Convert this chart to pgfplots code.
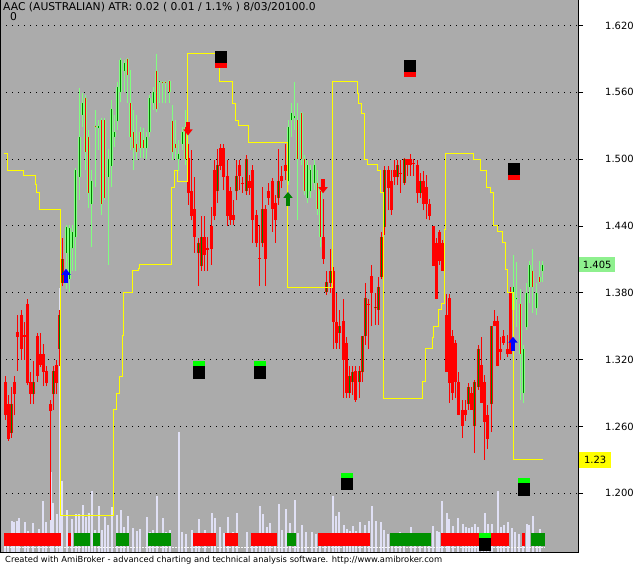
\documentclass[border=0pt]{standalone}
\usepackage{fontspec}
\setmainfont{DejaVu Sans}
\usepackage{pgfplots}
\usepackage{pgfplotstable}
\pgfplotsset{compat=1.18}
\usetikzlibrary{arrows.meta}

\definecolor{bg}{HTML}{ABABAB}
\definecolor{cred}{HTML}{FF0000}
\definecolor{cgreen}{HTML}{008000}
\definecolor{lgreen}{HTML}{80FF80}
\definecolor{brgreen}{HTML}{00FF00}
\definecolor{ribgreen}{HTML}{009000}
\definecolor{vol}{HTML}{E0E0F5}
\definecolor{lbl}{HTML}{8EF08E}
\definecolor{cyel}{HTML}{FFFF00}

% x = bar position (px), s: 0 = red candle, 1 = light green candle
\pgfplotstableread{
x o h l c s
5 1.300 1.305 1.266 1.270 0
8 1.280 1.288 1.247 1.249 0
11 1.254 1.295 1.250 1.280 0
14 1.300 1.305 1.270 1.289 0
17 1.345 1.360 1.310 1.340 0
21 1.360 1.365 1.320 1.330 0
24 1.342 1.354 1.320 1.340 0
27 1.370 1.374 1.297 1.299 0
30 1.300 1.309 1.280 1.289 0
33 1.289 1.319 1.280 1.300 0
37 1.341 1.344 1.300 1.305 0
40 1.325 1.344 1.313 1.315 0
43 1.325 1.334 1.296 1.309 0
46 1.310 1.314 1.296 1.299 0
50 1.280 1.284 1.176 1.274 0
53 1.289 1.314 1.275 1.310 0
56 1.315 1.320 1.289 1.299 0
59 1.330 1.365 1.314 1.360 0
62 1.389 1.429 1.386 1.410 0
66 1.416 1.441 1.383 1.439 1
69 1.392 1.441 1.381 1.438 1
72 1.420 1.441 1.400 1.435 1
75 1.430 1.492 1.400 1.490 1
79 1.484 1.564 1.463 1.520 1
82 1.540 1.559 1.529 1.550 1
85 1.555 1.558 1.490 1.506 1
88 1.520 1.526 1.456 1.470 1
91 1.460 1.490 1.421 1.480 1
95 1.530 1.544 1.475 1.529 1
98 1.528 1.535 1.508 1.530 1
101 1.535 1.537 1.450 1.460 1
104 1.535 1.537 1.463 1.465 1
108 1.484 1.509 1.405 1.500 1
111 1.494 1.553 1.475 1.545 1
114 1.520 1.540 1.511 1.524 1
117 1.534 1.569 1.526 1.565 1
120 1.560 1.591 1.551 1.589 1
124 1.579 1.589 1.560 1.586 1
127 1.590 1.591 1.550 1.576 1
130 1.550 1.580 1.508 1.520 1
133 1.524 1.544 1.490 1.510 1
136 1.514 1.540 1.499 1.506 1
140 1.524 1.529 1.501 1.510 1
143 1.517 1.528 1.501 1.510 1
146 1.510 1.524 1.500 1.520 1
149 1.524 1.558 1.520 1.555 1
153 1.550 1.565 1.544 1.560 1
156 1.579 1.594 1.542 1.545 1
159 1.569 1.570 1.550 1.570 1
162 1.569 1.570 1.550 1.568 1
165 1.569 1.570 1.550 1.568 1
169 1.570 1.571 1.550 1.560 1
172 1.534 1.549 1.499 1.506 1
175 1.514 1.535 1.499 1.510 1
178 1.500 1.517 1.489 1.505 1
182 1.514 1.529 1.508 1.524 1
185 1.529 1.544 1.495 1.500 1
188 1.501 1.514 1.459 1.470 0
191 1.471 1.508 1.445 1.449 0
194 1.455 1.484 1.416 1.430 0
198 1.416 1.429 1.386 1.425 0
201 1.404 1.449 1.400 1.430 0
204 1.430 1.449 1.400 1.414 0
207 1.420 1.430 1.400 1.418 0
211 1.440 1.457 1.405 1.419 0
214 1.490 1.499 1.445 1.449 0
217 1.471 1.509 1.461 1.495 0
220 1.510 1.514 1.490 1.494 0
223 1.510 1.514 1.472 1.484 0
227 1.485 1.499 1.440 1.449 0
230 1.471 1.475 1.441 1.445 0
233 1.450 1.463 1.441 1.445 0
236 1.471 1.499 1.463 1.485 0
239 1.495 1.499 1.472 1.485 0
242 1.479 1.484 1.470 1.478 0
246 1.471 1.504 1.468 1.500 0
249 1.480 1.486 1.468 1.474 0
252 1.490 1.495 1.425 1.445 0
256 1.450 1.454 1.421 1.425 0
259 1.411 1.441 1.386 1.410 0
262 1.425 1.475 1.421 1.455 0
265 1.455 1.459 1.386 1.410 0
268 1.471 1.479 1.459 1.465 0
272 1.480 1.483 1.435 1.455 0
275 1.461 1.468 1.425 1.445 0
278 1.465 1.509 1.459 1.480 0
281 1.485 1.494 1.474 1.480 0
285 1.495 1.514 1.481 1.489 0
288 1.480 1.535 1.477 1.529 1
291 1.535 1.550 1.520 1.541 1
294 1.537 1.569 1.526 1.539 1
297 1.535 1.550 1.445 1.500 1
301 1.541 1.542 1.495 1.500 1
304 1.500 1.504 1.468 1.471 1
307 1.465 1.499 1.461 1.495 1
310 1.471 1.495 1.465 1.490 1
314 1.479 1.499 1.472 1.495 1
317 1.479 1.490 1.450 1.455 1
320 1.471 1.475 1.421 1.430 1
323 1.430 1.464 1.406 1.410 0
326 1.381 1.400 1.378 1.390 0
330 1.389 1.419 1.380 1.400 0
333 1.400 1.403 1.330 1.354 0
336 1.354 1.380 1.330 1.335 0
339 1.344 1.365 1.330 1.350 0
343 1.355 1.374 1.286 1.320 0
346 1.335 1.340 1.286 1.290 0
349 1.290 1.314 1.286 1.305 0
352 1.300 1.314 1.288 1.309 0
355 1.310 1.314 1.282 1.284 0
359 1.300 1.314 1.286 1.310 0
362 1.309 1.341 1.300 1.341 0
365 1.341 1.389 1.333 1.375 0
368 1.370 1.374 1.330 1.369 0
371 1.395 1.405 1.350 1.380 0
375 1.366 1.380 1.351 1.367 0
378 1.365 1.394 1.351 1.385 0
381 1.394 1.435 1.392 1.430 0
384 1.439 1.494 1.432 1.490 0
388 1.490 1.494 1.454 1.474 0
391 1.480 1.490 1.450 1.454 0
394 1.490 1.499 1.477 1.484 0
397 1.484 1.499 1.477 1.495 0
400 1.488 1.499 1.470 1.487 0
404 1.479 1.501 1.477 1.500 0
407 1.500 1.500 1.485 1.495 0
410 1.500 1.505 1.485 1.495 0
413 1.497 1.500 1.485 1.496 0
417 1.495 1.499 1.461 1.470 0
420 1.470 1.488 1.465 1.480 0
423 1.480 1.489 1.454 1.460 0
426 1.475 1.486 1.446 1.460 0
429 1.460 1.464 1.445 1.449 0
433 1.440 1.440 1.404 1.404 0
436 1.425 1.429 1.374 1.374 0
439 1.435 1.436 1.405 1.409 0
442 1.425 1.427 1.400 1.400 0
446 1.360 1.379 1.309 1.309 0
449 1.375 1.379 1.281 1.299 0
452 1.341 1.347 1.284 1.290 0
455 1.335 1.338 1.286 1.300 0
458 1.300 1.309 1.270 1.270 0
462 1.275 1.284 1.250 1.260 0
465 1.275 1.284 1.265 1.270 0
468 1.280 1.299 1.275 1.295 0
471 1.290 1.295 1.275 1.275 0
474 1.260 1.302 1.236 1.300 0
478 1.295 1.333 1.293 1.330 0
481 1.315 1.340 1.281 1.281 0
484 1.300 1.306 1.230 1.264 0
487 1.270 1.279 1.240 1.249 0
491 1.280 1.350 1.255 1.350 0
494 1.355 1.365 1.350 1.350 0
497 1.355 1.359 1.314 1.314 0
500 1.330 1.340 1.320 1.327 0
503 1.341 1.347 1.333 1.335 0
507 1.330 1.342 1.322 1.325 0
510 1.380 1.385 1.325 1.325 0
513 1.365 1.414 1.347 1.385 1
516 1.374 1.408 1.349 1.375 1
520 1.370 1.383 1.284 1.325 1
523 1.290 1.333 1.281 1.330 1
526 1.349 1.389 1.347 1.380 1
529 1.385 1.409 1.371 1.405 1
532 1.400 1.419 1.362 1.385 1
536 1.366 1.389 1.360 1.380 1
539 1.394 1.409 1.389 1.390 1
542 1.400 1.409 1.390 1.405 1
}\ohlc

% volume, in its own units (bar height)
\pgfplotstableread{
x v
5 13
8 17
12 32
14 31
17 32
19 35
25 31
28 22
33 30
39 24
43 52
46 31
51 81
53 50
57 39
60 265
62 72
67 43
72 34
76 39
79 39
83 48
86 36
89 40
92 62
95 23
99 47
102 23
105 36
108 28
112 46
117 38
121 43
124 26
128 37
133 25
137 22
140 24
147 36
150 21
153 23
157 57
163 35
166 21
170 23
179 121
182 21
186 19
192 23
196 20
199 34
205 23
212 40
215 35
220 26
224 20
228 36
233 21
237 40
247 21
252 19
256 20
260 47
263 39
267 26
270 30
275 20
279 49
282 23
286 44
290 30
295 53
298 20
302 28
306 21
312 21
316 19
320 20
325 20
329 19
333 57
336 37
339 41
344 28
347 24
350 22
353 27
356 22
360 31
365 28
369 32
372 47
376 32
381 31
384 23
388 19
392 20
396 19
400 21
404 19
411 26
415 20
420 19
425 20
429 19
433 27
437 22
439 21
442 52
447 40
449 34
453 27
458 35
463 29
466 26
469 25
472 26
475 29
478 26
482 20
485 40
488 29
492 29
498 62
501 26
504 28
508 31
512 25
515 21
519 19
523 19
527 29
529 28
533 37
537 20
540 24
}\vol

% colour ribbon: t = 0 red, 1 green
\pgfplotstableread{
x0 x1 t
4 61 0
68 71 0
74 90 1
93 100 1
116 129 1
148 171 1
193 216 0
225 238 0
251 277 0
287 296 1
318 370 0
390 431 1
441 509 0
522 525 0
531 545 1
}\ribbon

\begin{document}
\begin{tikzpicture}
\path[use as bounding box] (0,0) rectangle (639bp,565bp);
\begin{axis}[
  at={(0,12bp)}, anchor=south west,
  scale only axis, width=578bp, height=553bp,
  xmin=0, xmax=578, ymin=1.1464, ymax=1.6429,
  axis background/.style={fill=bg},
  axis line style={draw=none},
  xtick=\empty,
  ytick={1.2,1.26,1.32,1.38,1.44,1.5,1.56,1.62},
  ytick pos=right, yticklabel pos=right,
  tick align=outside, major tick length=5bp,
  tick style={black, line width=0.8bp},
  ymajorgrids,
  grid style={black, line width=1bp, dash pattern=on 1bp off 5bp},
  /pgf/number format/.cd, fixed, fixed zerofill, precision=3, assume math mode=true,
  /pgfplots/.cd,
  yticklabel style={font=\fontsize{10}{12}\selectfont, anchor=west, inner sep=0pt, xshift=22bp},
]
% volume
\addplot[vol, line width=2bp, ycomb] table[x=x, y expr={1.1464+\thisrow{v}/1113.8}] {\vol};
% ribbon
\addplot[cred, line width=13bp, quiver={u={(\thisrow{t}==0)*(\thisrow{x1}-\thisrow{x0})}, v=0}]
  table[x=x0, y expr=1.1584] {\ribbon};
\addplot[ribgreen, line width=13bp, quiver={u={(\thisrow{t}==1)*(\thisrow{x1}-\thisrow{x0})}, v=0}]
  table[x=x0, y expr=1.1584] {\ribbon};
\addplot[white!90!bg, line width=1bp, dash pattern=on 2bp off 1bp] coordinates {(4,1.1517) (545,1.1517)};
% wicks
\addplot[cred, line width=1bp, quiver={u=0, v={(\thisrow{s}==0)*(\thisrow{h}-\thisrow{l})}}]
  table[x=x, y=l] {\ohlc};
\addplot[lgreen, line width=1bp, quiver={u=0, v={(\thisrow{s}==1)*(\thisrow{h}-\thisrow{l})}}]
  table[x=x, y=l] {\ohlc};
% bodies: outline
\addplot[cred, line width=3bp, quiver={u=0, v={(\thisrow{s}==0)*(\thisrow{c}-\thisrow{o})}}]
  table[x=x, y=o] {\ohlc};
\addplot[lgreen, line width=3bp, quiver={u=0, v={(\thisrow{s}==1)*(\thisrow{c}-\thisrow{o})}}]
  table[x=x, y=o] {\ohlc};
% bodies: inside
\addplot[cgreen, line width=1bp, quiver={u=0, v={(\thisrow{c}>\thisrow{o})*(\thisrow{c}-\thisrow{o})}}]
  table[x=x, y=o] {\ohlc};
\addplot[cred, line width=1bp, quiver={u=0, v={(\thisrow{c}<\thisrow{o})*(\thisrow{c}-\thisrow{o})}}]
  table[x=x, y=o] {\ohlc};
% trailing stop
\addplot[cyel, line width=1bp, const plot] coordinates {
 (4,1.505) (7,1.490) (23,1.485) (35,1.477) (36,1.470) (39,1.455) (60,1.180)
 (113,1.275) (116,1.290) (119,1.305) (122,1.342) (123,1.380) (132,1.400) (138,1.402)
 (139,1.405) (171,1.475) (174,1.490) (177,1.480) (187,1.595) (219,1.570) (232,1.550)
 (235,1.535) (238,1.530) (248,1.515) (287,1.385) (332,1.570) (357,1.559) (358,1.550)
 (361,1.541) (364,1.500) (367,1.495) (377,1.490) (380,1.470) (383,1.285) (422,1.300)
 (425,1.330) (432,1.340) (433,1.350) (438,1.365) (441,1.370) (444,1.437) (445,1.505)
 (473,1.500) (480,1.490) (486,1.475) (490,1.470) (493,1.440) (497,1.435) (502,1.425)
 (505,1.401) (507,1.380) (513,1.230) (543,1.230)};
% signal boxes
\addplot[black, line width=12bp, quiver={u=0, v=\thisrow{d}}] table[x=x, y=y] {
x y d
221 1.586 0.011
410 1.578 0.011
514 1.486 0.011
199 1.303 0.011
260 1.303 0.011
347 1.203 0.011
524 1.198 0.011
485 1.148 0.012
};
\addplot[cred, line width=12bp, quiver={u=0, v=\thisrow{d}}] table[x=x, y=y] {
x y d
221 1.582 0.004
410 1.574 0.004
514 1.481 0.005
};
\addplot[brgreen, line width=12bp, quiver={u=0, v=\thisrow{d}}] table[x=x, y=y] {
x y d
199 1.314 0.005
260 1.314 0.005
347 1.214 0.004
524 1.209 0.005
485 1.160 0.004
};
% arrows
\addplot[blue, line width=4bp, -{Triangle[width=9bp,length=6bp]}, quiver={u=0, v=\thisrow{d}}] table[x=x, y=y] {
x y d
66 1.389 0.0126
513 1.328 0.0126
};
\addplot[cgreen, line width=4bp, -{Triangle[width=9bp,length=6bp]}, quiver={u=0, v=\thisrow{d}}] table[x=x, y=y] {
x y d
288 1.458 0.0126
};
\addplot[cred, line width=4bp, -{Triangle[width=9bp,length=6bp]}, quiver={u=0, v=\thisrow{d}}] table[x=x, y=y] {
x y d
188 1.533 -0.0117
323 1.482 -0.0126
};
\coordinate (lastc) at (axis cs:578,1.405);
\coordinate (stopv) at (axis cs:578,1.23);
\end{axis}
\draw[black, line width=1bp] (0.5bp,565bp) -- (0.5bp,12bp) -- (578bp,12bp) -- (578bp,565bp);
\node[anchor=west, fill=lbl, inner sep=0pt, minimum width=36bp, minimum height=15bp,
  font=\fontsize{10}{12}\selectfont] at ([xshift=1bp]lastc) {1.405};
\node[anchor=west, fill=cyel, inner sep=0pt, minimum width=32bp, minimum height=16bp,
  font=\fontsize{10}{12}\selectfont] at ([xshift=1bp]stopv) {1.23};
\node[anchor=base west, inner sep=0pt, font=\fontsize{10.8}{12}\selectfont] at (3bp,554.3bp)
  {AAC (AUSTRALIAN) ATR: 0.02 ( 0.01 / 1.1\% ) 8/03/20100.0};
\node[anchor=base west, inner sep=0pt, font=\fontsize{10.8}{12}\selectfont] at (10bp,544bp) {0};
\node[anchor=base west, inner sep=0pt, font=\fontsize{8.4}{10}\selectfont] at (5bp,3bp)
  {Created with AmiBroker - advanced charting and technical analysis software. http://www.amibroker.com};
\end{tikzpicture}
\end{document}
